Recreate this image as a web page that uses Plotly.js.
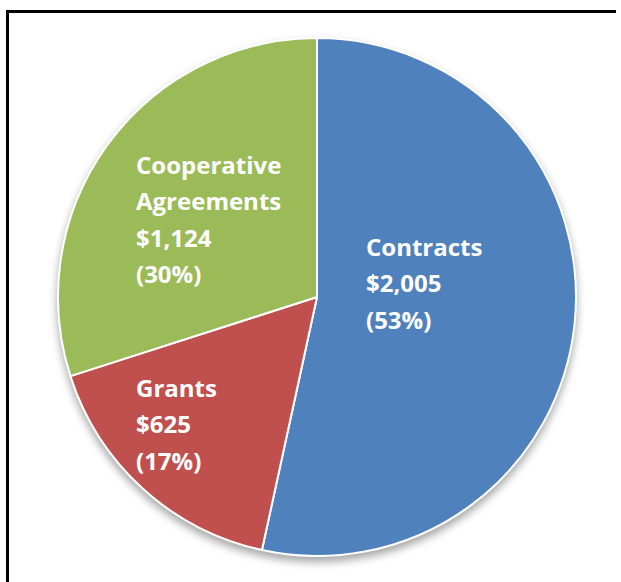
<!DOCTYPE html>
<html>
<head>
<meta charset="utf-8">
<script src="https://cdn.plot.ly/plotly-3.0.1.min.js"></script>
<style>
  html, body { margin: 0; padding: 0; background: #fff; overflow: hidden; }
  #wrap { position: relative; width: 621px; height: 582px; overflow: hidden; }
  #chart { position: absolute; left: 0; top: 0; width: 621px; height: 582px; }
  #frame { position: absolute; left: 6px; top: 10px; width: 607px; height: 700px;
           border-top: 3px solid #000; border-left: 3px solid #000; pointer-events: none; }
  .pielayer .trace { filter: drop-shadow(0px 5px 4px rgba(0,0,0,0.35)); }
</style>
</head>
<body>
<div id="wrap"><div id="chart"></div><div id="frame"></div></div>
<script>
// Data
const categories = ["Contracts", "Grants", "Cooperative Agreements"];
const values = [2005, 625, 1124];
const percents = [53, 17, 30];
const colors = ["#4F81BD", "#C0504D", "#9BBB59"];

const W = 621, H = 582;
const px = (x) => x / W;
const py = (y) => 1 - y / H;

const labelSpots = [
  { x: 364, y: 246 },
  { x: 134, y: 387 },
  { x: 134, y: 164 }
];
const lineStep = 36.5;

function fmtMoney(v) {
  return "$" + v.toLocaleString("en-US");
}

const annotations = [];
categories.forEach((cat, i) => {
  const words = cat.split(" ");
  const lines = words.concat([fmtMoney(values[i]), "(" + percents[i] + "%)"]);
  lines.forEach((ln, j) => {
    annotations.push({
      xref: "paper", yref: "paper",
      x: px(labelSpots[i].x), y: py(labelSpots[i].y + j * lineStep),
      xanchor: "left", yanchor: "middle",
      text: "<b>" + ln + "</b>",
      showarrow: false,
      font: { family: "'Open Sans', sans-serif", size: 24, color: "#FFFFFF" }
    });
  });
});

const trace = {
  type: "pie",
  labels: categories,
  values: values,
  sort: false,
  direction: "clockwise",
  rotation: 0,
  textinfo: "none",
  hoverinfo: "label+value+percent",
  marker: { colors: colors, line: { color: "#FFFFFF", width: 2 } },
  domain: { x: [px(58), px(576)], y: [py(556), py(38)] },
  showlegend: false
};

const layout = {
  width: W, height: H,
  margin: { l: 0, r: 0, t: 0, b: 0 },
  paper_bgcolor: "#FFFFFF",
  showlegend: false,
  annotations: annotations
};

Plotly.newPlot("chart", [trace], layout, { displayModeBar: false, staticPlot: true });
</script>
</body>
</html>
